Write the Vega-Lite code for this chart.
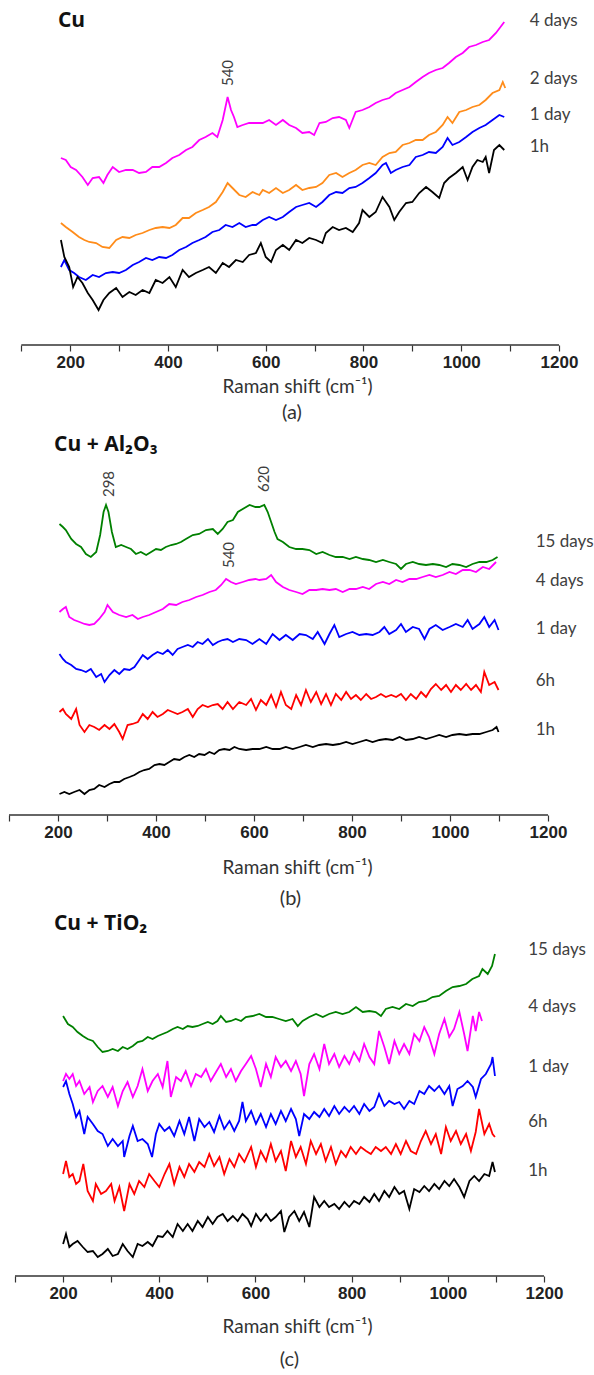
{
"$schema": "https://vega.github.io/schema/vega-lite/v6.json",
"background": "white",
"padding": {"left": 8, "top": 5, "right": 0, "bottom": 0},
"spacing": 0,
"resolve": {"scale": {"x": "independent", "y": "independent"}},
"config": {
  "view": {"stroke": null},
  "axis": {"grid": false, "domain": false, "tickColor": "#333333", "tickWidth": 1.2, "tickSize": 6, "labelFont": "Liberation Sans", "labelFontWeight": "bold", "labelFontSize": 17, "labelColor": "#222222", "labelPadding": 3, "labelFlush": false, "titleFont": "Lato", "titleFontSize": 19, "titleFontWeight": "normal", "titleColor": "#333333", "titleX": 288},
  "title": {"font": "Lato", "fontSize": 20, "fontWeight": "normal", "color": "#333333", "frame": "group"},
  "line": {"strokeWidth": 1.8},
  "rule": {"color": "#333333", "strokeWidth": 1.4}
},
"datasets": {
"a": [
{"s":"4d","x":181,"y":187},{"s":"4d","x":191,"y":185},{"s":"4d","x":201,"y":178},{"s":"4d","x":212,"y":175},{"s":"4d","x":225,"y":168},{"s":"4d","x":236,"y":160},{"s":"4d","x":246,"y":167},{"s":"4d","x":259,"y":168},{"s":"4d","x":268,"y":162},{"s":"4d","x":276,"y":170},{"s":"4d","x":287,"y":178},{"s":"4d","x":300,"y":173},{"s":"4d","x":314,"y":175},{"s":"4d","x":328,"y":175},{"s":"4d","x":341,"y":172},{"s":"4d","x":355,"y":173},{"s":"4d","x":368,"y":178},{"s":"4d","x":382,"y":178},{"s":"4d","x":396,"y":182},{"s":"4d","x":409,"y":187},{"s":"4d","x":423,"y":190},{"s":"4d","x":437,"y":195},{"s":"4d","x":450,"y":198},{"s":"4d","x":464,"y":205},{"s":"4d","x":477,"y":208},{"s":"4d","x":491,"y":212},{"s":"4d","x":501,"y":208},{"s":"4d","x":512,"y":225},{"s":"4d","x":522,"y":248},{"s":"4d","x":529,"y":235},{"s":"4d","x":535,"y":228},{"s":"4d","x":542,"y":218},{"s":"4d","x":553,"y":220},{"s":"4d","x":566,"y":222},{"s":"4d","x":580,"y":222},{"s":"4d","x":594,"y":222},{"s":"4d","x":607,"y":225},{"s":"4d","x":621,"y":220},{"s":"4d","x":635,"y":225},{"s":"4d","x":648,"y":220},{"s":"4d","x":662,"y":217},{"s":"4d","x":675,"y":212},{"s":"4d","x":689,"y":213},{"s":"4d","x":699,"y":210},{"s":"4d","x":710,"y":222},{"s":"4d","x":723,"y":223},{"s":"4d","x":737,"y":227},{"s":"4d","x":750,"y":228},{"s":"4d","x":764,"y":225},{"s":"4d","x":771,"y":217},{"s":"4d","x":784,"y":233},{"s":"4d","x":798,"y":235},{"s":"4d","x":812,"y":238},{"s":"4d","x":825,"y":242},{"s":"4d","x":839,"y":245},{"s":"4d","x":853,"y":247},{"s":"4d","x":866,"y":252},{"s":"4d","x":880,"y":255},{"s":"4d","x":894,"y":258},{"s":"4d","x":907,"y":263},{"s":"4d","x":921,"y":268},{"s":"4d","x":934,"y":272},{"s":"4d","x":948,"y":275},{"s":"4d","x":962,"y":277},{"s":"4d","x":975,"y":282},{"s":"4d","x":989,"y":288},{"s":"4d","x":1003,"y":292},{"s":"4d","x":1016,"y":298},{"s":"4d","x":1030,"y":300},{"s":"4d","x":1044,"y":303},{"s":"4d","x":1057,"y":305},{"s":"4d","x":1071,"y":312},{"s":"4d","x":1088,"y":323},
{"s":"2d","x":181,"y":122},{"s":"2d","x":191,"y":118},{"s":"2d","x":205,"y":113},{"s":"2d","x":218,"y":108},{"s":"2d","x":229,"y":105},{"s":"2d","x":239,"y":103},{"s":"2d","x":253,"y":102},{"s":"2d","x":266,"y":98},{"s":"2d","x":280,"y":97},{"s":"2d","x":294,"y":105},{"s":"2d","x":307,"y":108},{"s":"2d","x":321,"y":107},{"s":"2d","x":334,"y":110},{"s":"2d","x":348,"y":112},{"s":"2d","x":362,"y":115},{"s":"2d","x":375,"y":117},{"s":"2d","x":389,"y":118},{"s":"2d","x":403,"y":117},{"s":"2d","x":416,"y":120},{"s":"2d","x":430,"y":127},{"s":"2d","x":443,"y":127},{"s":"2d","x":457,"y":132},{"s":"2d","x":471,"y":135},{"s":"2d","x":484,"y":138},{"s":"2d","x":498,"y":143},{"s":"2d","x":512,"y":153},{"s":"2d","x":522,"y":162},{"s":"2d","x":532,"y":157},{"s":"2d","x":546,"y":150},{"s":"2d","x":559,"y":148},{"s":"2d","x":573,"y":153},{"s":"2d","x":587,"y":150},{"s":"2d","x":594,"y":155},{"s":"2d","x":607,"y":152},{"s":"2d","x":621,"y":157},{"s":"2d","x":635,"y":152},{"s":"2d","x":648,"y":155},{"s":"2d","x":662,"y":160},{"s":"2d","x":675,"y":155},{"s":"2d","x":689,"y":157},{"s":"2d","x":703,"y":158},{"s":"2d","x":716,"y":162},{"s":"2d","x":730,"y":170},{"s":"2d","x":744,"y":172},{"s":"2d","x":757,"y":168},{"s":"2d","x":771,"y":172},{"s":"2d","x":784,"y":175},{"s":"2d","x":798,"y":180},{"s":"2d","x":812,"y":182},{"s":"2d","x":825,"y":180},{"s":"2d","x":839,"y":188},{"s":"2d","x":853,"y":192},{"s":"2d","x":866,"y":193},{"s":"2d","x":880,"y":200},{"s":"2d","x":894,"y":202},{"s":"2d","x":907,"y":205},{"s":"2d","x":921,"y":205},{"s":"2d","x":934,"y":210},{"s":"2d","x":948,"y":213},{"s":"2d","x":962,"y":220},{"s":"2d","x":972,"y":228},{"s":"2d","x":982,"y":222},{"s":"2d","x":996,"y":233},{"s":"2d","x":1010,"y":235},{"s":"2d","x":1023,"y":238},{"s":"2d","x":1037,"y":240},{"s":"2d","x":1050,"y":245},{"s":"2d","x":1064,"y":252},{"s":"2d","x":1078,"y":255},{"s":"2d","x":1085,"y":263},{"s":"2d","x":1090,"y":257},
{"s":"1d","x":181,"y":78},{"s":"1d","x":188,"y":85},{"s":"1d","x":198,"y":75},{"s":"1d","x":208,"y":72},{"s":"1d","x":218,"y":68},{"s":"1d","x":232,"y":65},{"s":"1d","x":246,"y":70},{"s":"1d","x":259,"y":68},{"s":"1d","x":273,"y":72},{"s":"1d","x":287,"y":73},{"s":"1d","x":300,"y":72},{"s":"1d","x":314,"y":75},{"s":"1d","x":328,"y":80},{"s":"1d","x":341,"y":83},{"s":"1d","x":355,"y":87},{"s":"1d","x":368,"y":85},{"s":"1d","x":382,"y":88},{"s":"1d","x":396,"y":87},{"s":"1d","x":409,"y":90},{"s":"1d","x":423,"y":95},{"s":"1d","x":437,"y":98},{"s":"1d","x":450,"y":102},{"s":"1d","x":464,"y":105},{"s":"1d","x":477,"y":108},{"s":"1d","x":491,"y":113},{"s":"1d","x":505,"y":115},{"s":"1d","x":518,"y":120},{"s":"1d","x":532,"y":118},{"s":"1d","x":546,"y":122},{"s":"1d","x":559,"y":118},{"s":"1d","x":573,"y":120},{"s":"1d","x":580,"y":120},{"s":"1d","x":594,"y":125},{"s":"1d","x":607,"y":128},{"s":"1d","x":621,"y":125},{"s":"1d","x":635,"y":128},{"s":"1d","x":648,"y":133},{"s":"1d","x":662,"y":138},{"s":"1d","x":675,"y":140},{"s":"1d","x":689,"y":142},{"s":"1d","x":703,"y":138},{"s":"1d","x":716,"y":143},{"s":"1d","x":730,"y":150},{"s":"1d","x":744,"y":153},{"s":"1d","x":757,"y":152},{"s":"1d","x":771,"y":157},{"s":"1d","x":784,"y":158},{"s":"1d","x":798,"y":162},{"s":"1d","x":812,"y":167},{"s":"1d","x":825,"y":172},{"s":"1d","x":839,"y":180},{"s":"1d","x":846,"y":182},{"s":"1d","x":856,"y":172},{"s":"1d","x":866,"y":175},{"s":"1d","x":880,"y":178},{"s":"1d","x":894,"y":180},{"s":"1d","x":907,"y":188},{"s":"1d","x":921,"y":190},{"s":"1d","x":934,"y":193},{"s":"1d","x":948,"y":192},{"s":"1d","x":962,"y":198},{"s":"1d","x":972,"y":207},{"s":"1d","x":982,"y":200},{"s":"1d","x":996,"y":203},{"s":"1d","x":1010,"y":208},{"s":"1d","x":1023,"y":213},{"s":"1d","x":1037,"y":217},{"s":"1d","x":1050,"y":220},{"s":"1d","x":1064,"y":225},{"s":"1d","x":1078,"y":230},{"s":"1d","x":1088,"y":228},
{"s":"1h","x":181,"y":105},{"s":"1h","x":188,"y":88},{"s":"1h","x":198,"y":78},{"s":"1h","x":206,"y":58},{"s":"1h","x":215,"y":68},{"s":"1h","x":225,"y":62},{"s":"1h","x":236,"y":52},{"s":"1h","x":246,"y":45},{"s":"1h","x":258,"y":35},{"s":"1h","x":268,"y":45},{"s":"1h","x":280,"y":52},{"s":"1h","x":294,"y":57},{"s":"1h","x":307,"y":48},{"s":"1h","x":321,"y":53},{"s":"1h","x":334,"y":50},{"s":"1h","x":348,"y":55},{"s":"1h","x":362,"y":52},{"s":"1h","x":375,"y":65},{"s":"1h","x":389,"y":62},{"s":"1h","x":403,"y":68},{"s":"1h","x":416,"y":58},{"s":"1h","x":430,"y":75},{"s":"1h","x":443,"y":68},{"s":"1h","x":457,"y":72},{"s":"1h","x":471,"y":75},{"s":"1h","x":484,"y":78},{"s":"1h","x":498,"y":72},{"s":"1h","x":512,"y":82},{"s":"1h","x":525,"y":78},{"s":"1h","x":539,"y":85},{"s":"1h","x":553,"y":83},{"s":"1h","x":566,"y":90},{"s":"1h","x":580,"y":92},{"s":"1h","x":590,"y":102},{"s":"1h","x":600,"y":88},{"s":"1h","x":611,"y":83},{"s":"1h","x":621,"y":95},{"s":"1h","x":635,"y":100},{"s":"1h","x":648,"y":95},{"s":"1h","x":662,"y":105},{"s":"1h","x":675,"y":102},{"s":"1h","x":689,"y":107},{"s":"1h","x":703,"y":105},{"s":"1h","x":716,"y":102},{"s":"1h","x":723,"y":112},{"s":"1h","x":737,"y":118},{"s":"1h","x":750,"y":115},{"s":"1h","x":764,"y":117},{"s":"1h","x":778,"y":113},{"s":"1h","x":791,"y":122},{"s":"1h","x":798,"y":135},{"s":"1h","x":812,"y":128},{"s":"1h","x":825,"y":133},{"s":"1h","x":839,"y":148},{"s":"1h","x":853,"y":138},{"s":"1h","x":863,"y":125},{"s":"1h","x":873,"y":133},{"s":"1h","x":887,"y":142},{"s":"1h","x":900,"y":143},{"s":"1h","x":914,"y":152},{"s":"1h","x":928,"y":158},{"s":"1h","x":941,"y":153},{"s":"1h","x":955,"y":147},{"s":"1h","x":965,"y":162},{"s":"1h","x":975,"y":167},{"s":"1h","x":989,"y":172},{"s":"1h","x":1003,"y":178},{"s":"1h","x":1013,"y":165},{"s":"1h","x":1023,"y":178},{"s":"1h","x":1033,"y":185},{"s":"1h","x":1044,"y":183},{"s":"1h","x":1050,"y":188},{"s":"1h","x":1057,"y":172},{"s":"1h","x":1067,"y":195},{"s":"1h","x":1078,"y":200},{"s":"1h","x":1088,"y":195}
],
"b": [
{"s":"15d","x":203,"y":291},{"s":"15d","x":210,"y":288},{"s":"15d","x":216,"y":285},{"s":"15d","x":227,"y":276},{"s":"15d","x":237,"y":271},{"s":"15d","x":247,"y":268},{"s":"15d","x":257,"y":261},{"s":"15d","x":267,"y":258},{"s":"15d","x":278,"y":263},{"s":"15d","x":286,"y":280},{"s":"15d","x":293,"y":303},{"s":"15d","x":298,"y":310},{"s":"15d","x":303,"y":303},{"s":"15d","x":310,"y":283},{"s":"15d","x":318,"y":268},{"s":"15d","x":329,"y":270},{"s":"15d","x":339,"y":268},{"s":"15d","x":349,"y":266},{"s":"15d","x":359,"y":261},{"s":"15d","x":369,"y":263},{"s":"15d","x":380,"y":260},{"s":"15d","x":390,"y":263},{"s":"15d","x":400,"y":266},{"s":"15d","x":410,"y":265},{"s":"15d","x":420,"y":268},{"s":"15d","x":431,"y":270},{"s":"15d","x":441,"y":271},{"s":"15d","x":451,"y":273},{"s":"15d","x":461,"y":276},{"s":"15d","x":475,"y":280},{"s":"15d","x":488,"y":281},{"s":"15d","x":502,"y":285},{"s":"15d","x":516,"y":286},{"s":"15d","x":526,"y":281},{"s":"15d","x":536,"y":286},{"s":"15d","x":546,"y":293},{"s":"15d","x":557,"y":295},{"s":"15d","x":567,"y":303},{"s":"15d","x":577,"y":306},{"s":"15d","x":591,"y":310},{"s":"15d","x":603,"y":308},{"s":"15d","x":611,"y":308},{"s":"15d","x":621,"y":310},{"s":"15d","x":628,"y":303},{"s":"15d","x":635,"y":293},{"s":"15d","x":642,"y":283},{"s":"15d","x":648,"y":276},{"s":"15d","x":659,"y":273},{"s":"15d","x":672,"y":268},{"s":"15d","x":686,"y":266},{"s":"15d","x":699,"y":266},{"s":"15d","x":713,"y":265},{"s":"15d","x":727,"y":261},{"s":"15d","x":740,"y":263},{"s":"15d","x":754,"y":260},{"s":"15d","x":767,"y":258},{"s":"15d","x":781,"y":258},{"s":"15d","x":795,"y":256},{"s":"15d","x":808,"y":258},{"s":"15d","x":822,"y":256},{"s":"15d","x":835,"y":255},{"s":"15d","x":849,"y":253},{"s":"15d","x":863,"y":255},{"s":"15d","x":876,"y":253},{"s":"15d","x":890,"y":251},{"s":"15d","x":900,"y":246},{"s":"15d","x":910,"y":251},{"s":"15d","x":924,"y":253},{"s":"15d","x":937,"y":251},{"s":"15d","x":951,"y":250},{"s":"15d","x":965,"y":251},{"s":"15d","x":978,"y":250},{"s":"15d","x":992,"y":248},{"s":"15d","x":1005,"y":251},{"s":"15d","x":1019,"y":250},{"s":"15d","x":1033,"y":248},{"s":"15d","x":1046,"y":251},{"s":"15d","x":1060,"y":253},{"s":"15d","x":1074,"y":253},{"s":"15d","x":1087,"y":255},{"s":"15d","x":1097,"y":258},
{"s":"4d","x":203,"y":203},{"s":"4d","x":210,"y":206},{"s":"4d","x":216,"y":208},{"s":"4d","x":223,"y":198},{"s":"4d","x":233,"y":195},{"s":"4d","x":244,"y":193},{"s":"4d","x":254,"y":191},{"s":"4d","x":264,"y":190},{"s":"4d","x":274,"y":191},{"s":"4d","x":284,"y":196},{"s":"4d","x":295,"y":203},{"s":"4d","x":301,"y":210},{"s":"4d","x":312,"y":203},{"s":"4d","x":325,"y":200},{"s":"4d","x":339,"y":198},{"s":"4d","x":352,"y":200},{"s":"4d","x":363,"y":196},{"s":"4d","x":373,"y":198},{"s":"4d","x":386,"y":200},{"s":"4d","x":400,"y":203},{"s":"4d","x":414,"y":206},{"s":"4d","x":427,"y":211},{"s":"4d","x":441,"y":210},{"s":"4d","x":454,"y":213},{"s":"4d","x":468,"y":215},{"s":"4d","x":482,"y":218},{"s":"4d","x":495,"y":220},{"s":"4d","x":509,"y":223},{"s":"4d","x":522,"y":225},{"s":"4d","x":533,"y":230},{"s":"4d","x":543,"y":236},{"s":"4d","x":553,"y":233},{"s":"4d","x":563,"y":231},{"s":"4d","x":577,"y":233},{"s":"4d","x":590,"y":235},{"s":"4d","x":603,"y":236},{"s":"4d","x":611,"y":235},{"s":"4d","x":625,"y":236},{"s":"4d","x":635,"y":240},{"s":"4d","x":645,"y":233},{"s":"4d","x":659,"y":228},{"s":"4d","x":672,"y":225},{"s":"4d","x":686,"y":223},{"s":"4d","x":699,"y":221},{"s":"4d","x":713,"y":225},{"s":"4d","x":727,"y":225},{"s":"4d","x":740,"y":226},{"s":"4d","x":754,"y":225},{"s":"4d","x":767,"y":226},{"s":"4d","x":781,"y":223},{"s":"4d","x":795,"y":226},{"s":"4d","x":808,"y":226},{"s":"4d","x":822,"y":228},{"s":"4d","x":835,"y":226},{"s":"4d","x":849,"y":231},{"s":"4d","x":863,"y":233},{"s":"4d","x":876,"y":231},{"s":"4d","x":890,"y":235},{"s":"4d","x":903,"y":233},{"s":"4d","x":917,"y":236},{"s":"4d","x":931,"y":236},{"s":"4d","x":944,"y":238},{"s":"4d","x":958,"y":240},{"s":"4d","x":971,"y":238},{"s":"4d","x":985,"y":240},{"s":"4d","x":999,"y":243},{"s":"4d","x":1012,"y":241},{"s":"4d","x":1026,"y":245},{"s":"4d","x":1040,"y":245},{"s":"4d","x":1053,"y":243},{"s":"4d","x":1067,"y":248},{"s":"4d","x":1080,"y":246},{"s":"4d","x":1094,"y":253},
{"s":"1d","x":203,"y":161},{"s":"1d","x":210,"y":156},{"s":"1d","x":216,"y":153},{"s":"1d","x":227,"y":150},{"s":"1d","x":237,"y":146},{"s":"1d","x":247,"y":145},{"s":"1d","x":257,"y":143},{"s":"1d","x":267,"y":146},{"s":"1d","x":278,"y":138},{"s":"1d","x":288,"y":141},{"s":"1d","x":295,"y":133},{"s":"1d","x":305,"y":140},{"s":"1d","x":315,"y":145},{"s":"1d","x":325,"y":141},{"s":"1d","x":335,"y":146},{"s":"1d","x":346,"y":145},{"s":"1d","x":356,"y":148},{"s":"1d","x":366,"y":155},{"s":"1d","x":373,"y":160},{"s":"1d","x":383,"y":156},{"s":"1d","x":393,"y":160},{"s":"1d","x":403,"y":163},{"s":"1d","x":414,"y":161},{"s":"1d","x":424,"y":165},{"s":"1d","x":434,"y":160},{"s":"1d","x":444,"y":166},{"s":"1d","x":454,"y":168},{"s":"1d","x":465,"y":170},{"s":"1d","x":475,"y":168},{"s":"1d","x":485,"y":173},{"s":"1d","x":495,"y":171},{"s":"1d","x":506,"y":176},{"s":"1d","x":516,"y":170},{"s":"1d","x":526,"y":173},{"s":"1d","x":536,"y":175},{"s":"1d","x":546,"y":176},{"s":"1d","x":557,"y":173},{"s":"1d","x":570,"y":176},{"s":"1d","x":584,"y":175},{"s":"1d","x":597,"y":171},{"s":"1d","x":611,"y":176},{"s":"1d","x":625,"y":171},{"s":"1d","x":638,"y":181},{"s":"1d","x":652,"y":175},{"s":"1d","x":665,"y":180},{"s":"1d","x":679,"y":175},{"s":"1d","x":693,"y":181},{"s":"1d","x":706,"y":180},{"s":"1d","x":720,"y":176},{"s":"1d","x":730,"y":183},{"s":"1d","x":744,"y":171},{"s":"1d","x":754,"y":181},{"s":"1d","x":764,"y":190},{"s":"1d","x":774,"y":178},{"s":"1d","x":788,"y":181},{"s":"1d","x":801,"y":183},{"s":"1d","x":815,"y":180},{"s":"1d","x":829,"y":181},{"s":"1d","x":842,"y":180},{"s":"1d","x":856,"y":183},{"s":"1d","x":866,"y":188},{"s":"1d","x":876,"y":181},{"s":"1d","x":890,"y":185},{"s":"1d","x":900,"y":191},{"s":"1d","x":910,"y":183},{"s":"1d","x":924,"y":188},{"s":"1d","x":937,"y":186},{"s":"1d","x":948,"y":176},{"s":"1d","x":958,"y":186},{"s":"1d","x":971,"y":190},{"s":"1d","x":985,"y":185},{"s":"1d","x":999,"y":188},{"s":"1d","x":1012,"y":191},{"s":"1d","x":1026,"y":188},{"s":"1d","x":1036,"y":195},{"s":"1d","x":1046,"y":186},{"s":"1d","x":1060,"y":191},{"s":"1d","x":1070,"y":198},{"s":"1d","x":1080,"y":188},{"s":"1d","x":1091,"y":195},{"s":"1d","x":1099,"y":185},
{"s":"6h","x":203,"y":103},{"s":"6h","x":210,"y":106},{"s":"6h","x":216,"y":101},{"s":"6h","x":227,"y":96},{"s":"6h","x":237,"y":106},{"s":"6h","x":244,"y":90},{"s":"6h","x":254,"y":83},{"s":"6h","x":264,"y":90},{"s":"6h","x":274,"y":88},{"s":"6h","x":284,"y":85},{"s":"6h","x":295,"y":90},{"s":"6h","x":305,"y":86},{"s":"6h","x":315,"y":91},{"s":"6h","x":325,"y":83},{"s":"6h","x":332,"y":76},{"s":"6h","x":342,"y":90},{"s":"6h","x":352,"y":91},{"s":"6h","x":363,"y":93},{"s":"6h","x":373,"y":101},{"s":"6h","x":383,"y":96},{"s":"6h","x":393,"y":103},{"s":"6h","x":403,"y":98},{"s":"6h","x":414,"y":101},{"s":"6h","x":424,"y":105},{"s":"6h","x":434,"y":103},{"s":"6h","x":444,"y":101},{"s":"6h","x":454,"y":103},{"s":"6h","x":465,"y":106},{"s":"6h","x":475,"y":98},{"s":"6h","x":485,"y":106},{"s":"6h","x":495,"y":110},{"s":"6h","x":506,"y":108},{"s":"6h","x":516,"y":110},{"s":"6h","x":526,"y":111},{"s":"6h","x":536,"y":106},{"s":"6h","x":546,"y":113},{"s":"6h","x":557,"y":106},{"s":"6h","x":570,"y":113},{"s":"6h","x":584,"y":110},{"s":"6h","x":594,"y":116},{"s":"6h","x":604,"y":105},{"s":"6h","x":614,"y":115},{"s":"6h","x":625,"y":110},{"s":"6h","x":635,"y":120},{"s":"6h","x":645,"y":108},{"s":"6h","x":655,"y":123},{"s":"6h","x":665,"y":110},{"s":"6h","x":676,"y":106},{"s":"6h","x":686,"y":120},{"s":"6h","x":696,"y":110},{"s":"6h","x":706,"y":125},{"s":"6h","x":716,"y":113},{"s":"6h","x":727,"y":123},{"s":"6h","x":737,"y":111},{"s":"6h","x":747,"y":121},{"s":"6h","x":757,"y":110},{"s":"6h","x":767,"y":121},{"s":"6h","x":778,"y":115},{"s":"6h","x":788,"y":123},{"s":"6h","x":798,"y":116},{"s":"6h","x":808,"y":120},{"s":"6h","x":818,"y":115},{"s":"6h","x":829,"y":121},{"s":"6h","x":839,"y":116},{"s":"6h","x":849,"y":118},{"s":"6h","x":859,"y":121},{"s":"6h","x":869,"y":118},{"s":"6h","x":880,"y":120},{"s":"6h","x":890,"y":118},{"s":"6h","x":900,"y":121},{"s":"6h","x":910,"y":115},{"s":"6h","x":920,"y":121},{"s":"6h","x":931,"y":116},{"s":"6h","x":941,"y":123},{"s":"6h","x":951,"y":118},{"s":"6h","x":961,"y":126},{"s":"6h","x":971,"y":131},{"s":"6h","x":982,"y":125},{"s":"6h","x":992,"y":130},{"s":"6h","x":1002,"y":123},{"s":"6h","x":1012,"y":130},{"s":"6h","x":1022,"y":125},{"s":"6h","x":1033,"y":131},{"s":"6h","x":1043,"y":125},{"s":"6h","x":1053,"y":130},{"s":"6h","x":1063,"y":123},{"s":"6h","x":1070,"y":143},{"s":"6h","x":1080,"y":130},{"s":"6h","x":1091,"y":133},{"s":"6h","x":1099,"y":125},
{"s":"1h","x":203,"y":21},{"s":"1h","x":213,"y":23},{"s":"1h","x":223,"y":21},{"s":"1h","x":233,"y":23},{"s":"1h","x":244,"y":25},{"s":"1h","x":254,"y":21},{"s":"1h","x":264,"y":25},{"s":"1h","x":274,"y":26},{"s":"1h","x":284,"y":30},{"s":"1h","x":295,"y":28},{"s":"1h","x":305,"y":31},{"s":"1h","x":315,"y":33},{"s":"1h","x":325,"y":33},{"s":"1h","x":335,"y":36},{"s":"1h","x":346,"y":38},{"s":"1h","x":356,"y":40},{"s":"1h","x":366,"y":43},{"s":"1h","x":376,"y":45},{"s":"1h","x":386,"y":46},{"s":"1h","x":397,"y":50},{"s":"1h","x":407,"y":51},{"s":"1h","x":417,"y":50},{"s":"1h","x":427,"y":53},{"s":"1h","x":437,"y":56},{"s":"1h","x":448,"y":55},{"s":"1h","x":458,"y":58},{"s":"1h","x":468,"y":60},{"s":"1h","x":478,"y":58},{"s":"1h","x":488,"y":61},{"s":"1h","x":499,"y":60},{"s":"1h","x":509,"y":63},{"s":"1h","x":519,"y":61},{"s":"1h","x":529,"y":65},{"s":"1h","x":539,"y":66},{"s":"1h","x":550,"y":65},{"s":"1h","x":560,"y":68},{"s":"1h","x":570,"y":66},{"s":"1h","x":584,"y":65},{"s":"1h","x":597,"y":66},{"s":"1h","x":611,"y":66},{"s":"1h","x":625,"y":68},{"s":"1h","x":638,"y":66},{"s":"1h","x":652,"y":66},{"s":"1h","x":665,"y":68},{"s":"1h","x":679,"y":66},{"s":"1h","x":693,"y":68},{"s":"1h","x":706,"y":70},{"s":"1h","x":720,"y":68},{"s":"1h","x":733,"y":70},{"s":"1h","x":747,"y":71},{"s":"1h","x":761,"y":70},{"s":"1h","x":774,"y":71},{"s":"1h","x":788,"y":73},{"s":"1h","x":801,"y":71},{"s":"1h","x":815,"y":73},{"s":"1h","x":829,"y":75},{"s":"1h","x":842,"y":73},{"s":"1h","x":856,"y":75},{"s":"1h","x":869,"y":76},{"s":"1h","x":883,"y":75},{"s":"1h","x":897,"y":78},{"s":"1h","x":910,"y":75},{"s":"1h","x":924,"y":76},{"s":"1h","x":937,"y":78},{"s":"1h","x":951,"y":76},{"s":"1h","x":965,"y":78},{"s":"1h","x":978,"y":80},{"s":"1h","x":992,"y":78},{"s":"1h","x":1005,"y":80},{"s":"1h","x":1019,"y":81},{"s":"1h","x":1033,"y":80},{"s":"1h","x":1046,"y":81},{"s":"1h","x":1060,"y":81},{"s":"1h","x":1074,"y":83},{"s":"1h","x":1087,"y":85},{"s":"1h","x":1095,"y":88},{"s":"1h","x":1099,"y":83}
],
"c": [
{"s":"15d","x":200,"y":260},{"s":"15d","x":210,"y":252},{"s":"15d","x":220,"y":249},{"s":"15d","x":230,"y":244},{"s":"15d","x":241,"y":240},{"s":"15d","x":251,"y":237},{"s":"15d","x":262,"y":235},{"s":"15d","x":272,"y":229},{"s":"15d","x":282,"y":224},{"s":"15d","x":293,"y":225},{"s":"15d","x":303,"y":227},{"s":"15d","x":314,"y":225},{"s":"15d","x":324,"y":229},{"s":"15d","x":334,"y":227},{"s":"15d","x":345,"y":230},{"s":"15d","x":355,"y":234},{"s":"15d","x":365,"y":235},{"s":"15d","x":376,"y":239},{"s":"15d","x":386,"y":237},{"s":"15d","x":397,"y":240},{"s":"15d","x":407,"y":242},{"s":"15d","x":417,"y":244},{"s":"15d","x":428,"y":247},{"s":"15d","x":438,"y":249},{"s":"15d","x":449,"y":247},{"s":"15d","x":459,"y":250},{"s":"15d","x":469,"y":249},{"s":"15d","x":480,"y":250},{"s":"15d","x":490,"y":252},{"s":"15d","x":501,"y":254},{"s":"15d","x":511,"y":252},{"s":"15d","x":521,"y":255},{"s":"15d","x":528,"y":260},{"s":"15d","x":539,"y":254},{"s":"15d","x":549,"y":255},{"s":"15d","x":559,"y":257},{"s":"15d","x":570,"y":255},{"s":"15d","x":580,"y":259},{"s":"15d","x":594,"y":260},{"s":"15d","x":608,"y":262},{"s":"15d","x":622,"y":259},{"s":"15d","x":635,"y":259},{"s":"15d","x":649,"y":257},{"s":"15d","x":663,"y":255},{"s":"15d","x":677,"y":257},{"s":"15d","x":688,"y":250},{"s":"15d","x":698,"y":255},{"s":"15d","x":712,"y":259},{"s":"15d","x":726,"y":262},{"s":"15d","x":740,"y":259},{"s":"15d","x":753,"y":262},{"s":"15d","x":767,"y":264},{"s":"15d","x":781,"y":262},{"s":"15d","x":795,"y":264},{"s":"15d","x":809,"y":269},{"s":"15d","x":823,"y":264},{"s":"15d","x":837,"y":265},{"s":"15d","x":850,"y":264},{"s":"15d","x":861,"y":260},{"s":"15d","x":871,"y":267},{"s":"15d","x":885,"y":269},{"s":"15d","x":899,"y":267},{"s":"15d","x":913,"y":272},{"s":"15d","x":927,"y":270},{"s":"15d","x":940,"y":274},{"s":"15d","x":954,"y":275},{"s":"15d","x":968,"y":279},{"s":"15d","x":982,"y":280},{"s":"15d","x":996,"y":285},{"s":"15d","x":1010,"y":289},{"s":"15d","x":1024,"y":290},{"s":"15d","x":1038,"y":292},{"s":"15d","x":1051,"y":297},{"s":"15d","x":1065,"y":300},{"s":"15d","x":1072,"y":307},{"s":"15d","x":1083,"y":302},{"s":"15d","x":1092,"y":310},{"s":"15d","x":1098,"y":322},
{"s":"4d","x":200,"y":195},{"s":"4d","x":206,"y":202},{"s":"4d","x":213,"y":197},{"s":"4d","x":220,"y":202},{"s":"4d","x":227,"y":190},{"s":"4d","x":234,"y":195},{"s":"4d","x":244,"y":182},{"s":"4d","x":255,"y":189},{"s":"4d","x":262,"y":174},{"s":"4d","x":272,"y":185},{"s":"4d","x":282,"y":190},{"s":"4d","x":293,"y":179},{"s":"4d","x":303,"y":189},{"s":"4d","x":314,"y":170},{"s":"4d","x":324,"y":185},{"s":"4d","x":334,"y":194},{"s":"4d","x":345,"y":179},{"s":"4d","x":355,"y":190},{"s":"4d","x":365,"y":207},{"s":"4d","x":376,"y":185},{"s":"4d","x":386,"y":195},{"s":"4d","x":397,"y":202},{"s":"4d","x":407,"y":189},{"s":"4d","x":417,"y":215},{"s":"4d","x":424,"y":179},{"s":"4d","x":435,"y":199},{"s":"4d","x":445,"y":195},{"s":"4d","x":455,"y":205},{"s":"4d","x":466,"y":190},{"s":"4d","x":476,"y":202},{"s":"4d","x":487,"y":199},{"s":"4d","x":497,"y":207},{"s":"4d","x":507,"y":195},{"s":"4d","x":518,"y":204},{"s":"4d","x":528,"y":212},{"s":"4d","x":539,"y":199},{"s":"4d","x":549,"y":207},{"s":"4d","x":559,"y":195},{"s":"4d","x":570,"y":205},{"s":"4d","x":580,"y":212},{"s":"4d","x":591,"y":220},{"s":"4d","x":601,"y":207},{"s":"4d","x":611,"y":189},{"s":"4d","x":622,"y":212},{"s":"4d","x":632,"y":199},{"s":"4d","x":642,"y":219},{"s":"4d","x":653,"y":209},{"s":"4d","x":663,"y":215},{"s":"4d","x":674,"y":205},{"s":"4d","x":684,"y":215},{"s":"4d","x":694,"y":202},{"s":"4d","x":701,"y":180},{"s":"4d","x":712,"y":212},{"s":"4d","x":722,"y":222},{"s":"4d","x":733,"y":207},{"s":"4d","x":743,"y":232},{"s":"4d","x":753,"y":212},{"s":"4d","x":764,"y":222},{"s":"4d","x":774,"y":209},{"s":"4d","x":785,"y":220},{"s":"4d","x":795,"y":212},{"s":"4d","x":805,"y":224},{"s":"4d","x":816,"y":215},{"s":"4d","x":826,"y":232},{"s":"4d","x":837,"y":219},{"s":"4d","x":847,"y":212},{"s":"4d","x":857,"y":245},{"s":"4d","x":868,"y":229},{"s":"4d","x":878,"y":212},{"s":"4d","x":889,"y":235},{"s":"4d","x":899,"y":222},{"s":"4d","x":909,"y":232},{"s":"4d","x":920,"y":222},{"s":"4d","x":930,"y":242},{"s":"4d","x":941,"y":235},{"s":"4d","x":951,"y":249},{"s":"4d","x":961,"y":239},{"s":"4d","x":972,"y":222},{"s":"4d","x":982,"y":242},{"s":"4d","x":993,"y":257},{"s":"4d","x":1003,"y":239},{"s":"4d","x":1013,"y":247},{"s":"4d","x":1024,"y":264},{"s":"4d","x":1034,"y":242},{"s":"4d","x":1041,"y":225},{"s":"4d","x":1052,"y":260},{"s":"4d","x":1058,"y":245},{"s":"4d","x":1065,"y":264},{"s":"4d","x":1071,"y":255},
{"s":"1d","x":200,"y":189},{"s":"1d","x":206,"y":195},{"s":"1d","x":213,"y":182},{"s":"1d","x":220,"y":172},{"s":"1d","x":227,"y":159},{"s":"1d","x":234,"y":165},{"s":"1d","x":244,"y":142},{"s":"1d","x":251,"y":159},{"s":"1d","x":262,"y":152},{"s":"1d","x":272,"y":145},{"s":"1d","x":282,"y":142},{"s":"1d","x":293,"y":130},{"s":"1d","x":303,"y":137},{"s":"1d","x":314,"y":130},{"s":"1d","x":324,"y":135},{"s":"1d","x":327,"y":119},{"s":"1d","x":338,"y":140},{"s":"1d","x":345,"y":150},{"s":"1d","x":355,"y":135},{"s":"1d","x":365,"y":137},{"s":"1d","x":376,"y":132},{"s":"1d","x":385,"y":119},{"s":"1d","x":393,"y":142},{"s":"1d","x":400,"y":152},{"s":"1d","x":411,"y":145},{"s":"1d","x":421,"y":149},{"s":"1d","x":431,"y":140},{"s":"1d","x":442,"y":155},{"s":"1d","x":452,"y":142},{"s":"1d","x":462,"y":159},{"s":"1d","x":473,"y":135},{"s":"1d","x":483,"y":157},{"s":"1d","x":494,"y":149},{"s":"1d","x":504,"y":154},{"s":"1d","x":514,"y":144},{"s":"1d","x":525,"y":160},{"s":"1d","x":535,"y":147},{"s":"1d","x":546,"y":155},{"s":"1d","x":556,"y":145},{"s":"1d","x":566,"y":155},{"s":"1d","x":573,"y":174},{"s":"1d","x":580,"y":155},{"s":"1d","x":591,"y":165},{"s":"1d","x":601,"y":152},{"s":"1d","x":611,"y":162},{"s":"1d","x":622,"y":149},{"s":"1d","x":632,"y":162},{"s":"1d","x":642,"y":152},{"s":"1d","x":653,"y":165},{"s":"1d","x":663,"y":155},{"s":"1d","x":674,"y":167},{"s":"1d","x":684,"y":157},{"s":"1d","x":691,"y":140},{"s":"1d","x":701,"y":162},{"s":"1d","x":712,"y":157},{"s":"1d","x":722,"y":164},{"s":"1d","x":733,"y":159},{"s":"1d","x":743,"y":167},{"s":"1d","x":753,"y":160},{"s":"1d","x":764,"y":170},{"s":"1d","x":774,"y":162},{"s":"1d","x":785,"y":169},{"s":"1d","x":795,"y":164},{"s":"1d","x":805,"y":170},{"s":"1d","x":816,"y":162},{"s":"1d","x":826,"y":172},{"s":"1d","x":837,"y":165},{"s":"1d","x":847,"y":169},{"s":"1d","x":857,"y":182},{"s":"1d","x":868,"y":170},{"s":"1d","x":878,"y":175},{"s":"1d","x":889,"y":172},{"s":"1d","x":899,"y":174},{"s":"1d","x":909,"y":167},{"s":"1d","x":920,"y":175},{"s":"1d","x":930,"y":172},{"s":"1d","x":941,"y":185},{"s":"1d","x":951,"y":182},{"s":"1d","x":961,"y":190},{"s":"1d","x":972,"y":185},{"s":"1d","x":982,"y":190},{"s":"1d","x":993,"y":182},{"s":"1d","x":1003,"y":190},{"s":"1d","x":1010,"y":170},{"s":"1d","x":1020,"y":187},{"s":"1d","x":1031,"y":190},{"s":"1d","x":1041,"y":195},{"s":"1d","x":1052,"y":189},{"s":"1d","x":1058,"y":179},{"s":"1d","x":1069,"y":197},{"s":"1d","x":1079,"y":202},{"s":"1d","x":1090,"y":212},{"s":"1d","x":1093,"y":219},{"s":"1d","x":1098,"y":200},
{"s":"6h","x":200,"y":102},{"s":"6h","x":206,"y":115},{"s":"6h","x":213,"y":99},{"s":"6h","x":220,"y":102},{"s":"6h","x":227,"y":92},{"s":"6h","x":234,"y":95},{"s":"6h","x":242,"y":112},{"s":"6h","x":251,"y":85},{"s":"6h","x":262,"y":75},{"s":"6h","x":268,"y":92},{"s":"6h","x":279,"y":82},{"s":"6h","x":289,"y":85},{"s":"6h","x":300,"y":92},{"s":"6h","x":307,"y":75},{"s":"6h","x":317,"y":89},{"s":"6h","x":327,"y":65},{"s":"6h","x":338,"y":92},{"s":"6h","x":348,"y":82},{"s":"6h","x":358,"y":95},{"s":"6h","x":369,"y":89},{"s":"6h","x":379,"y":102},{"s":"6h","x":390,"y":95},{"s":"6h","x":400,"y":89},{"s":"6h","x":411,"y":102},{"s":"6h","x":421,"y":112},{"s":"6h","x":431,"y":92},{"s":"6h","x":442,"y":109},{"s":"6h","x":452,"y":99},{"s":"6h","x":462,"y":112},{"s":"6h","x":473,"y":104},{"s":"6h","x":483,"y":114},{"s":"6h","x":494,"y":109},{"s":"6h","x":504,"y":122},{"s":"6h","x":514,"y":110},{"s":"6h","x":525,"y":119},{"s":"6h","x":535,"y":102},{"s":"6h","x":546,"y":117},{"s":"6h","x":556,"y":109},{"s":"6h","x":566,"y":122},{"s":"6h","x":577,"y":114},{"s":"6h","x":591,"y":129},{"s":"6h","x":601,"y":109},{"s":"6h","x":611,"y":125},{"s":"6h","x":622,"y":115},{"s":"6h","x":632,"y":132},{"s":"6h","x":642,"y":115},{"s":"6h","x":653,"y":125},{"s":"6h","x":663,"y":105},{"s":"6h","x":674,"y":135},{"s":"6h","x":684,"y":119},{"s":"6h","x":694,"y":129},{"s":"6h","x":705,"y":112},{"s":"6h","x":715,"y":135},{"s":"6h","x":726,"y":122},{"s":"6h","x":736,"y":132},{"s":"6h","x":746,"y":115},{"s":"6h","x":757,"y":129},{"s":"6h","x":767,"y":112},{"s":"6h","x":778,"y":125},{"s":"6h","x":788,"y":119},{"s":"6h","x":798,"y":129},{"s":"6h","x":809,"y":122},{"s":"6h","x":819,"y":129},{"s":"6h","x":830,"y":125},{"s":"6h","x":840,"y":122},{"s":"6h","x":850,"y":129},{"s":"6h","x":861,"y":125},{"s":"6h","x":871,"y":129},{"s":"6h","x":882,"y":122},{"s":"6h","x":892,"y":132},{"s":"6h","x":902,"y":122},{"s":"6h","x":913,"y":135},{"s":"6h","x":923,"y":125},{"s":"6h","x":934,"y":122},{"s":"6h","x":944,"y":135},{"s":"6h","x":954,"y":145},{"s":"6h","x":965,"y":132},{"s":"6h","x":975,"y":142},{"s":"6h","x":986,"y":122},{"s":"6h","x":996,"y":149},{"s":"6h","x":1006,"y":135},{"s":"6h","x":1017,"y":145},{"s":"6h","x":1027,"y":132},{"s":"6h","x":1038,"y":142},{"s":"6h","x":1048,"y":125},{"s":"6h","x":1058,"y":144},{"s":"6h","x":1065,"y":167},{"s":"6h","x":1076,"y":142},{"s":"6h","x":1086,"y":152},{"s":"6h","x":1093,"y":142},{"s":"6h","x":1098,"y":139},
{"s":"1h","x":200,"y":32},{"s":"1h","x":206,"y":42},{"s":"1h","x":213,"y":29},{"s":"1h","x":220,"y":32},{"s":"1h","x":230,"y":35},{"s":"1h","x":241,"y":29},{"s":"1h","x":251,"y":24},{"s":"1h","x":262,"y":25},{"s":"1h","x":272,"y":19},{"s":"1h","x":282,"y":22},{"s":"1h","x":293,"y":27},{"s":"1h","x":303,"y":20},{"s":"1h","x":314,"y":22},{"s":"1h","x":324,"y":32},{"s":"1h","x":334,"y":25},{"s":"1h","x":345,"y":19},{"s":"1h","x":355,"y":32},{"s":"1h","x":365,"y":30},{"s":"1h","x":376,"y":34},{"s":"1h","x":386,"y":30},{"s":"1h","x":397,"y":40},{"s":"1h","x":407,"y":39},{"s":"1h","x":417,"y":45},{"s":"1h","x":428,"y":39},{"s":"1h","x":438,"y":52},{"s":"1h","x":449,"y":45},{"s":"1h","x":459,"y":52},{"s":"1h","x":469,"y":45},{"s":"1h","x":480,"y":55},{"s":"1h","x":490,"y":49},{"s":"1h","x":501,"y":59},{"s":"1h","x":511,"y":52},{"s":"1h","x":521,"y":59},{"s":"1h","x":532,"y":62},{"s":"1h","x":542,"y":55},{"s":"1h","x":553,"y":60},{"s":"1h","x":563,"y":55},{"s":"1h","x":573,"y":62},{"s":"1h","x":584,"y":57},{"s":"1h","x":591,"y":50},{"s":"1h","x":601,"y":62},{"s":"1h","x":611,"y":55},{"s":"1h","x":622,"y":62},{"s":"1h","x":632,"y":55},{"s":"1h","x":642,"y":59},{"s":"1h","x":653,"y":65},{"s":"1h","x":660,"y":44},{"s":"1h","x":670,"y":59},{"s":"1h","x":681,"y":65},{"s":"1h","x":691,"y":55},{"s":"1h","x":701,"y":64},{"s":"1h","x":712,"y":49},{"s":"1h","x":722,"y":79},{"s":"1h","x":733,"y":69},{"s":"1h","x":743,"y":75},{"s":"1h","x":753,"y":69},{"s":"1h","x":764,"y":72},{"s":"1h","x":774,"y":67},{"s":"1h","x":785,"y":74},{"s":"1h","x":795,"y":69},{"s":"1h","x":805,"y":75},{"s":"1h","x":816,"y":72},{"s":"1h","x":826,"y":79},{"s":"1h","x":837,"y":74},{"s":"1h","x":847,"y":82},{"s":"1h","x":857,"y":75},{"s":"1h","x":868,"y":85},{"s":"1h","x":878,"y":79},{"s":"1h","x":889,"y":89},{"s":"1h","x":899,"y":82},{"s":"1h","x":909,"y":85},{"s":"1h","x":920,"y":67},{"s":"1h","x":930,"y":87},{"s":"1h","x":941,"y":84},{"s":"1h","x":951,"y":90},{"s":"1h","x":961,"y":85},{"s":"1h","x":972,"y":92},{"s":"1h","x":982,"y":87},{"s":"1h","x":993,"y":95},{"s":"1h","x":1003,"y":90},{"s":"1h","x":1013,"y":97},{"s":"1h","x":1024,"y":89},{"s":"1h","x":1034,"y":79},{"s":"1h","x":1045,"y":95},{"s":"1h","x":1055,"y":100},{"s":"1h","x":1065,"y":95},{"s":"1h","x":1076,"y":102},{"s":"1h","x":1086,"y":100},{"s":"1h","x":1093,"y":114},{"s":"1h","x":1098,"y":104}
],
"la": [{"t":"4 days","x":1140,"y":324},{"t":"2 days","x":1140,"y":266},{"t":"1 day","x":1140,"y":230},{"t":"1h","x":1140,"y":198}],
"lb": [{"t":"15 days","x":1175,"y":273},{"t":"4 days","x":1175,"y":234},{"t":"1 day","x":1175,"y":186},{"t":"6h","x":1175,"y":134},{"t":"1h","x":1175,"y":85}],
"lc": [{"t":"15 days","x":1167,"y":326},{"t":"4 days","x":1167,"y":269},{"t":"1 day","x":1167,"y":209},{"t":"6h","x":1167,"y":154},{"t":"1h","x":1167,"y":105}],
"pa": [{"t":"540","x":522,"y":272}],
"pb": [{"t":"298","x":304,"y":331},{"t":"620","x":620,"y":336},{"t":"540","x":549,"y":260}],
"axisline": [{"x":100,"x2":1200,"y":0}]
},
"vconcat": [
{
 "width": 550, "height": 340,
 "title": {"text": "(a)", "orient": "bottom", "anchor": "middle", "offset": 7, "dx": 8},
 "layer": [
  {"data": {"name": "a"}, "mark": {"type": "line"},
   "encoding": {
    "x": {"field": "x", "type": "quantitative", "title": "Raman shift (cm⁻¹)", "scale": {"domain": [74.8, 1200], "nice": false, "zero": false},
          "axis": {"values": [100,200,300,400,500,600,700,800,900,1000,1100,1200], "format": "d", "labelExpr": "datum.value % 200 == 0 ? datum.label : ''", "titlePadding": 7}},
    "y": {"field": "y", "type": "quantitative", "title": null, "scale": {"domain": [0, 340], "nice": false, "zero": false}, "axis": null},
    "color": {"field": "s", "type": "nominal", "legend": null, "scale": {"domain": ["1h","6h","1d","2d","4d","15d"], "range": ["#000000","#ff0000","#0000ff","#ff8c1a","#ff00ff","#008000"]}}
   }},
  {"data": {"name": "axisline"}, "mark": {"type": "rule"},
   "encoding": {"x": {"field": "x", "type": "quantitative", "title": "Raman shift (cm⁻¹)"}, "x2": {"field": "x2"}, "y": {"field": "y", "type": "quantitative", "title": null}}},
  {"data": {"name": "la"}, "mark": {"type": "text", "align": "left", "baseline": "middle", "font": "Lato", "fontSize": 17, "color": "#404040"},
   "encoding": {"x": {"field": "x", "type": "quantitative", "title": "Raman shift (cm⁻¹)"}, "y": {"field": "y", "type": "quantitative", "title": null}, "text": {"field": "t"}}},
  {"data": {"name": "pa"}, "mark": {"type": "text", "angle": 270, "align": "center", "baseline": "middle", "font": "Lato", "fontSize": 15, "color": "#404040"},
   "encoding": {"x": {"field": "x", "type": "quantitative", "title": "Raman shift (cm⁻¹)"}, "y": {"field": "y", "type": "quantitative", "title": null}, "text": {"field": "t"}}},
  {"data": {"values": [{"t": "Cu"}]}, "mark": {"type": "text", "align": "left", "baseline": "middle", "font": "Open Sans", "fontSize": 21, "fontWeight": "bold", "color": "#111111"},
   "encoding": {"x": {"datum": 175}, "y": {"datum": 324}, "text": {"field": "t"}}}
 ]
},
{
 "width": 539, "height": 392,
 "title": {"text": "(b)", "orient": "bottom", "anchor": "middle", "offset": 12, "dx": 12},
 "layer": [
  {"data": {"name": "b"}, "mark": {"type": "line"},
   "encoding": {
    "x": {"field": "x", "type": "quantitative", "title": "Raman shift (cm⁻¹)", "scale": {"domain": [100, 1200], "nice": false, "zero": false},
          "axis": {"values": [100,200,300,400,500,600,700,800,900,1000,1100,1200], "format": "d", "labelExpr": "datum.value % 200 == 0 ? datum.label : ''", "titlePadding": 18}},
    "y": {"field": "y", "type": "quantitative", "title": null, "scale": {"domain": [0, 392], "nice": false, "zero": false}, "axis": null},
    "color": {"field": "s", "type": "nominal", "legend": null, "scale": {"domain": ["1h","6h","1d","2d","4d","15d"], "range": ["#000000","#ff0000","#0000ff","#ff8c1a","#ff00ff","#008000"]}}
   }},
  {"data": {"name": "axisline"}, "mark": {"type": "rule"},
   "encoding": {"x": {"field": "x", "type": "quantitative", "title": "Raman shift (cm⁻¹)"}, "x2": {"field": "x2"}, "y": {"field": "y", "type": "quantitative", "title": null}}},
  {"data": {"name": "lb"}, "mark": {"type": "text", "align": "left", "baseline": "middle", "font": "Lato", "fontSize": 17, "color": "#404040"},
   "encoding": {"x": {"field": "x", "type": "quantitative", "title": "Raman shift (cm⁻¹)"}, "y": {"field": "y", "type": "quantitative", "title": null}, "text": {"field": "t"}}},
  {"data": {"name": "pb"}, "mark": {"type": "text", "angle": 270, "align": "center", "baseline": "middle", "font": "Lato", "fontSize": 15, "color": "#404040"},
   "encoding": {"x": {"field": "x", "type": "quantitative", "title": "Raman shift (cm⁻¹)"}, "y": {"field": "y", "type": "quantitative", "title": null}, "text": {"field": "t"}}},
  {"data": {"values": [{"t": "Cu + Al₂O₃"}]}, "mark": {"type": "text", "align": "left", "baseline": "middle", "font": "Open Sans", "fontSize": 21, "fontWeight": "bold", "color": "#111111"},
   "encoding": {"x": {"datum": 192}, "y": {"datum": 370}, "text": {"field": "t"}}}
 ]
},
{
 "width": 535, "height": 367,
 "title": {"text": "(c)", "orient": "bottom", "anchor": "middle", "offset": 14, "dx": 13},
 "layer": [
  {"data": {"name": "c"}, "mark": {"type": "line"},
   "encoding": {
    "x": {"field": "x", "type": "quantitative", "title": "Raman shift (cm⁻¹)", "scale": {"domain": [87.5, 1200], "nice": false, "zero": false},
          "axis": {"values": [100,200,300,400,500,600,700,800,900,1000,1100,1200], "format": "d", "labelExpr": "datum.value % 200 == 0 ? datum.label : ''", "titlePadding": 16}},
    "y": {"field": "y", "type": "quantitative", "title": null, "scale": {"domain": [0, 367], "nice": false, "zero": false}, "axis": null},
    "color": {"field": "s", "type": "nominal", "legend": null, "scale": {"domain": ["1h","6h","1d","2d","4d","15d"], "range": ["#000000","#ff0000","#0000ff","#ff8c1a","#ff00ff","#008000"]}}
   }},
  {"data": {"name": "axisline"}, "mark": {"type": "rule"},
   "encoding": {"x": {"field": "x", "type": "quantitative", "title": "Raman shift (cm⁻¹)"}, "x2": {"field": "x2"}, "y": {"field": "y", "type": "quantitative", "title": null}}},
  {"data": {"name": "lc"}, "mark": {"type": "text", "align": "left", "baseline": "middle", "font": "Lato", "fontSize": 17, "color": "#404040"},
   "encoding": {"x": {"field": "x", "type": "quantitative", "title": "Raman shift (cm⁻¹)"}, "y": {"field": "y", "type": "quantitative", "title": null}, "text": {"field": "t"}}},
  {"data": {"values": [{"t": "Cu + TiO₂"}]}, "mark": {"type": "text", "align": "left", "baseline": "middle", "font": "Open Sans", "fontSize": 21, "fontWeight": "bold", "color": "#111111"},
   "encoding": {"x": {"datum": 181}, "y": {"datum": 352}, "text": {"field": "t"}}}
 ]
}
]
}
